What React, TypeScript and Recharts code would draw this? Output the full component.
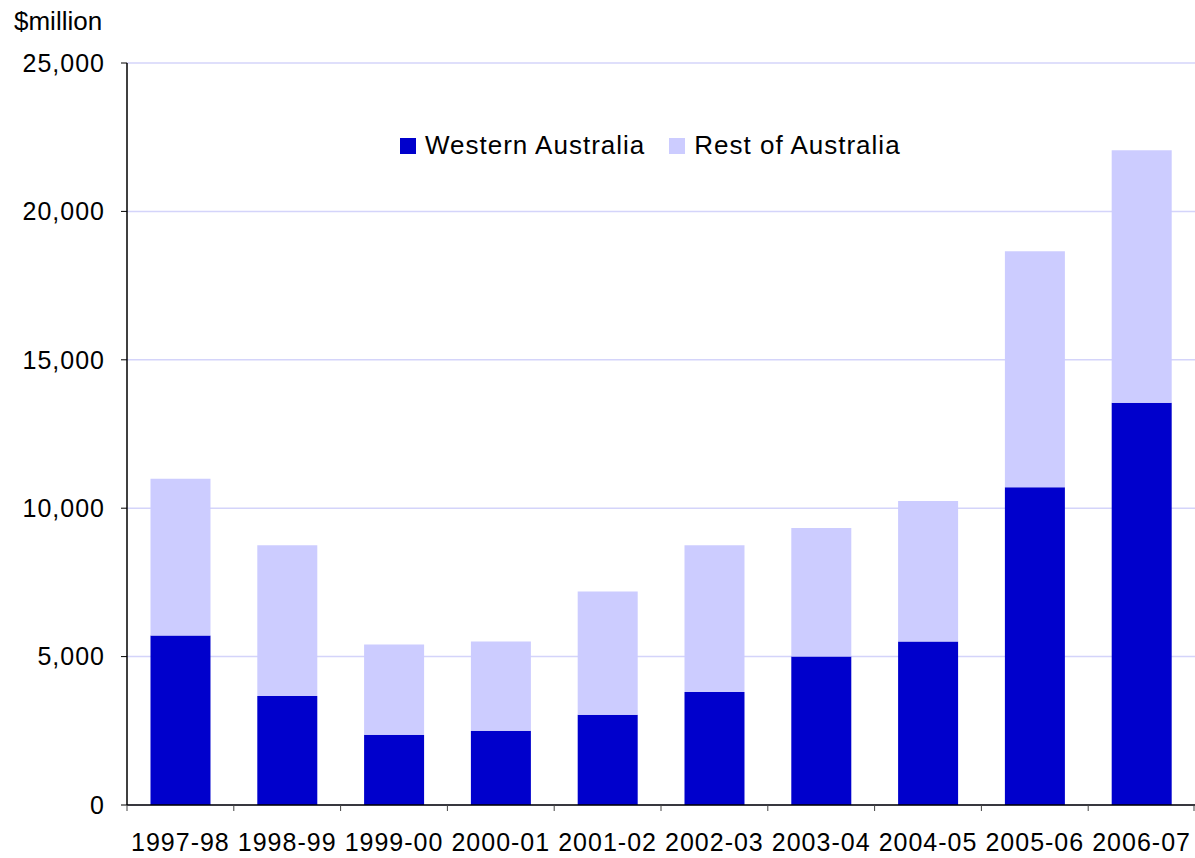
import {
	BarChart,
	Bar,
	XAxis,
	YAxis,
	CartesianGrid,
	Legend,
} from 'recharts';

const years = [
	'1997-98',
	'1998-99',
	'1999-00',
	'2000-01',
	'2001-02',
	'2002-03',
	'2003-04',
	'2004-05',
	'2005-06',
	'2006-07',
];
const westernAustralia = [5710, 3670, 2370, 2500, 3040, 3810, 5000, 5510, 10710, 13550];
const restOfAustralia = [5280, 5080, 3040, 3010, 4150, 4940, 4330, 4730, 7950, 8510];
const yTicks = [0, 5000, 10000, 15000, 20000, 25000];

const WA_COLOR = '#0000CC';
const REST_COLOR = '#CCCCFF';
const FONT = '"Liberation Sans", Arial, sans-serif';

const CHART_W = 1195;
const CHART_H = 858;
const Y_AXIS_W = 127;
const band = (CHART_W - Y_AXIS_W) / years.length;

const XTick = (props: any) => {
	const { x, y, payload, index } = props;
	return (
		<g>
			<line x1={x - band / 2} x2={x - band / 2} y1={y - 6} y2={y} stroke='#444' />
			{index === years.length - 1 && (
				<line x1={x + band / 2 - 1} x2={x + band / 2 - 1} y1={y - 6} y2={y} stroke='#444' />
			)}
			<text
				x={x}
				y={y + 22}
				dy='0.71em'
				textAnchor='middle'
				fill='#000'
				fontSize={25}
				fontFamily={FONT}
				letterSpacing={1}
			>
				{payload.value}
			</text>
		</g>
	);
};

const LegendBox = () => {
	const items = [
		{ name: 'Western Australia', color: WA_COLOR },
		{ name: 'Rest of Australia', color: REST_COLOR },
	];
	return (
		<div style={{ display: 'flex', alignItems: 'center', gap: 24, fontFamily: FONT }}>
			{items.map((item) => (
				<div key={item.name} style={{ display: 'flex', alignItems: 'center', gap: 9 }}>
					<div style={{ width: 16, height: 16, backgroundColor: item.color }} />
					<span style={{ fontSize: 26, color: '#000', letterSpacing: 1 }}>{item.name}</span>
				</div>
			))}
		</div>
	);
};

const App = () => {
	const data = years.map((year, i) => ({
		year,
		wa: westernAustralia[i],
		rest: restOfAustralia[i],
	}));

	return (
		<div style={{ position: 'absolute', left: 0, top: 0, width: CHART_W, height: CHART_H, background: '#fff' }}>
			{/* unit label above the y axis */}
			<div
				style={{
					position: 'absolute',
					left: 14,
					top: 6,
					fontFamily: FONT,
					fontSize: 26,
					color: '#000',
				}}
			>
				$million
			</div>
			<BarChart
				width={CHART_W}
				height={CHART_H}
				data={data}
				margin={{ top: 63, right: 0, bottom: 0, left: 0 }}
				barCategoryGap='22%'
			>
				<CartesianGrid vertical={false} stroke='#D4D4FA' strokeWidth={1.5} />
				<XAxis
					dataKey='year'
					height={53}
					axisLine={{ stroke: '#000', strokeWidth: 1.5 }}
					tickLine={false}
					tickSize={6}
					tickMargin={0}
					interval={0}
					tick={<XTick />}
				/>
				<YAxis
					width={Y_AXIS_W}
					domain={[0, 25000]}
					ticks={yTicks}
					tickFormatter={(v: number) => v.toLocaleString('en-US')}
					axisLine={{ stroke: '#000', strokeWidth: 1.5 }}
					tickLine={{ stroke: '#000' }}
					tickSize={6}
					tickMargin={16}
					tick={{ fill: '#000', fontSize: 25, fontFamily: FONT, letterSpacing: 1 }}
				/>
				{/* middle alignment keeps the legend from reserving space above the plot */}
				<Legend
					layout='horizontal'
					verticalAlign='middle'
					wrapperStyle={{ top: 130, left: 400, width: 'auto' }}
					content={<LegendBox />}
				/>
				<Bar dataKey='wa' name='Western Australia' stackId='a' fill={WA_COLOR} isAnimationActive={false} />
				<Bar dataKey='rest' name='Rest of Australia' stackId='a' fill={REST_COLOR} isAnimationActive={false} />
			</BarChart>
		</div>
	);
};

export default App;
